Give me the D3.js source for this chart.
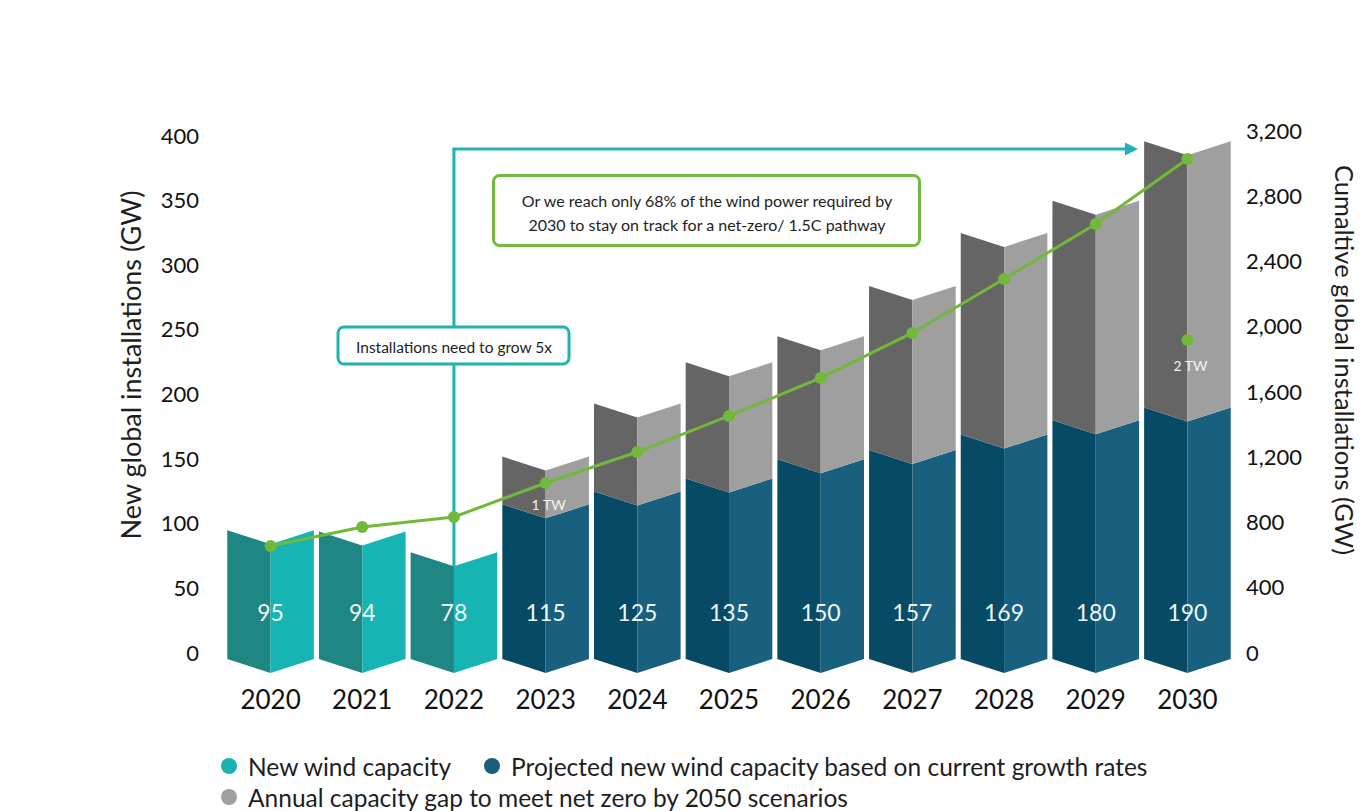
<!DOCTYPE html>
<html>
<head>
<meta charset="utf-8">
<script src="https://cdn.jsdelivr.net/npm/d3@7/dist/d3.min.js"></script>
<style>
  html, body { margin: 0; padding: 0; background: #ffffff; }
  svg { display: block; }
  text { font-family: Lato, "Open Sans", sans-serif; fill: #1e1e1e; }
</style>
</head>
<body>
<svg id="chart" width="1366" height="811"></svg>
<script>
// ---- data ----
const years = ["2020","2021","2022","2023","2024","2025","2026","2027","2028","2029","2030"];
const actualYears = ["2020","2021","2022"];
const actualNew = [95, 94, 78];
const projectedYears = ["2023","2024","2025","2026","2027","2028","2029","2030"];
const projectedNew = [115, 125, 135, 150, 157, 169, 180, 190];
const capacityGap = [37, 68, 90, 95, 127, 156, 170, 206];
const cumulative = [656, 772, 834, 1042, 1232, 1453, 1686, 1962, 2293, 2630, 3028];
const leftTicks = [0, 50, 100, 150, 200, 250, 300, 350, 400];
const rightTicks = [0, 400, 800, 1200, 1600, 2000, 2400, 2800, 3200];
const markers = [
  { year: "2023", value: 1042, label: "1 TW", showDot: false },
  { year: "2030", value: 1919, label: "2 TW", showDot: true }
];
const legendItems = [
  { label: "New wind capacity", color: "#17b3b3" },
  { label: "Projected new wind capacity based on current growth rates", color: "#1a5f7e" },
  { label: "Annual capacity gap to meet net zero by 2050 scenarios", color: "#9f9f9f" }
];
const noteGrow = "Installations need to grow 5x";
const noteReach = ["Or we reach only 68% of the wind power required by",
                   "2030 to stay on track for a net-zero/ 1.5C pathway"];

// ---- colours ----
const palette = {
  actual:    ["#1e8683", "#17b4b4"],
  projected: ["#064a66", "#19607f"],
  gap:       ["#656565", "#9f9f9f"]
};

const svg = d3.select("#chart");

// ---- scales ----
const x = d3.scaleBand().domain(years).range([224.5, 1233.5]).paddingInner(0.055).paddingOuter(0.03);
const yL = d3.scaleLinear().domain([0, 400]).range([653, 136]);
const yR = d3.scaleLinear().domain([0, 3200]).range([653, 131]);
const cx = yr => x(yr) + x.bandwidth() / 2;
const notch = 14;
const baseOffset = 6;

// ---- segments ----
const segments = [];
actualYears.forEach((yr, i) => segments.push({ year: yr, from: 0, to: actualNew[i], kind: "actual" }));
projectedYears.forEach((yr, i) => {
  segments.push({ year: yr, from: 0, to: projectedNew[i], kind: "projected" });
  segments.push({ year: yr, from: projectedNew[i], to: projectedNew[i] + capacityGap[i], kind: "gap" });
});

function halves(s) {
  const c = cx(s.year), w = x.bandwidth() / 2;
  const yl = s.from === 0 ? yL(0) + baseOffset : yL(s.from);
  const yh = yL(s.to);
  const left = [[c - w, yh], [c, yh + notch], [c, yl + notch], [c - w, yl]];
  const right = [[c, yh + notch], [c + w, yh], [c + w, yl], [c, yl + notch]];
  return [left, right];
}

// ---- annotation arrow (behind) ----
const teal = "#1fb3b5";
const arrowX = cx("2022");
const arrowY = 149;
const gAnn = svg.append("g");
gAnn.append("line")
  .attr("x1", arrowX).attr("x2", arrowX)
  .attr("y1", yL(actualNew[2]) + notch).attr("y2", arrowY)
  .attr("stroke", teal).attr("stroke-width", 3);
gAnn.append("line")
  .attr("x1", arrowX - 1.5).attr("x2", 1127)
  .attr("y1", arrowY).attr("y2", arrowY)
  .attr("stroke", teal).attr("stroke-width", 3);
gAnn.append("path")
  .attr("d", `M1125,${arrowY - 6.5} L1138,${arrowY} L1125,${arrowY + 6.5} Z`)
  .attr("fill", teal);

// ---- bars ----
const gBars = svg.append("g");
segments.forEach(s => {
  const [l, r] = halves(s);
  const cols = palette[s.kind];
  gBars.append("path").attr("d", "M" + l.join("L") + "Z").attr("fill", cols[0]);
  gBars.append("path").attr("d", "M" + r.join("L") + "Z").attr("fill", cols[1]);
});

// value labels
const valueLabels = actualYears.map((yr, i) => ({ year: yr, v: actualNew[i] }))
  .concat(projectedYears.map((yr, i) => ({ year: yr, v: projectedNew[i] })));
svg.append("g").selectAll("text").data(valueLabels).join("text")
  .attr("x", d => cx(d.year)).attr("y", 612)
  .attr("text-anchor", "middle").attr("dominant-baseline", "central")
  .style("fill", "#eef7f7").style("font-size", "23px")
  .text(d => d.v);

// ---- boxes ----
const gBox1 = svg.append("g");
gBox1.append("rect").attr("x", 338).attr("y", 327).attr("width", 231).attr("height", 37)
  .attr("rx", 6).attr("fill", "#fff").attr("stroke", teal).attr("stroke-width", 3);
gBox1.append("text").attr("x", 454).attr("y", 346.5).attr("text-anchor", "middle")
  .attr("dominant-baseline", "central").style("font-size", "15.5px").text(noteGrow);

const gBox2 = svg.append("g");
gBox2.append("rect").attr("x", 493.5).attr("y", 175.5).attr("width", 426).attr("height", 70)
  .attr("rx", 6).attr("fill", "#fff").attr("stroke", "#72b940").attr("stroke-width", 3);
gBox2.selectAll("text").data(noteReach).join("text")
  .attr("x", 707).attr("y", (d, i) => 200 + i * 24).attr("text-anchor", "middle")
  .attr("dominant-baseline", "central").style("font-size", "16px").text(d => d);

// ---- cumulative line ----
const green = "#72b83a";
const line = d3.line().x((d, i) => cx(years[i])).y(d => yR(d));
svg.append("path").attr("d", line(cumulative)).attr("fill", "none")
  .attr("stroke", green).attr("stroke-width", 3);
svg.append("g").selectAll("circle").data(cumulative).join("circle")
  .attr("cx", (d, i) => cx(years[i])).attr("cy", d => yR(d)).attr("r", 6).attr("fill", green);

// markers
markers.forEach(m => {
  if (m.showDot) {
    svg.append("circle").attr("cx", cx(m.year)).attr("cy", yR(m.value)).attr("r", 6).attr("fill", green);
    svg.append("text").attr("x", cx(m.year) + 3).attr("y", yR(m.value) + 26)
      .attr("text-anchor", "middle").attr("dominant-baseline", "central")
      .style("fill", "#f2f2f2").style("font-size", "14px").text(m.label);
  } else {
    svg.append("text").attr("x", cx(m.year) + 3).attr("y", yR(m.value) + 21)
      .attr("text-anchor", "middle").attr("dominant-baseline", "central")
      .style("fill", "#f2f2f2").style("font-size", "14px").text(m.label);
  }
});

// ---- axes ----
const axL = svg.append("g").attr("transform", "translate(205,0)")
  .call(d3.axisLeft(yL).tickValues(leftTicks).tickSize(0).tickPadding(6));
axL.select(".domain").remove();
axL.selectAll("text").style("font-size", "22px").style("font-family", "Lato, sans-serif").style("fill", "#111");

const axR = svg.append("g").attr("transform", "translate(1240,0)")
  .call(d3.axisRight(yR).tickValues(rightTicks).tickSize(0).tickPadding(6).tickFormat(d3.format(",")));
axR.select(".domain").remove();
axR.selectAll("text").style("font-size", "22px").style("font-family", "Lato, sans-serif").style("fill", "#111");

const axB = svg.append("g").attr("transform", "translate(0,687)")
  .call(d3.axisBottom(x).tickSize(0).tickPadding(4));
axB.select(".domain").remove();
axB.selectAll("text").style("font-size", "26px").style("font-family", "Lato, sans-serif").style("fill", "#111");

// axis titles
svg.append("text").attr("transform", "translate(130,365) rotate(-90)")
  .attr("text-anchor", "middle").attr("dominant-baseline", "central")
  .style("font-size", "27px").text("New global installations (GW)");
svg.append("text").attr("transform", "translate(1345,360) rotate(90)")
  .attr("text-anchor", "middle").attr("dominant-baseline", "central")
  .style("font-size", "25.5px").text("Cumaltive global installations (GW)");

// ---- legend ----
const legPos = [[229, 766], [492, 766], [229, 797]];
const gLeg = svg.append("g");
legendItems.forEach((it, i) => {
  const [lx, ly] = legPos[i];
  gLeg.append("circle").attr("cx", lx).attr("cy", ly).attr("r", 8).attr("fill", it.color);
  gLeg.append("text").attr("x", lx + 19).attr("y", ly).attr("dominant-baseline", "central")
    .style("font-size", "24.5px").text(it.label);
});
</script>
</body>
</html>
